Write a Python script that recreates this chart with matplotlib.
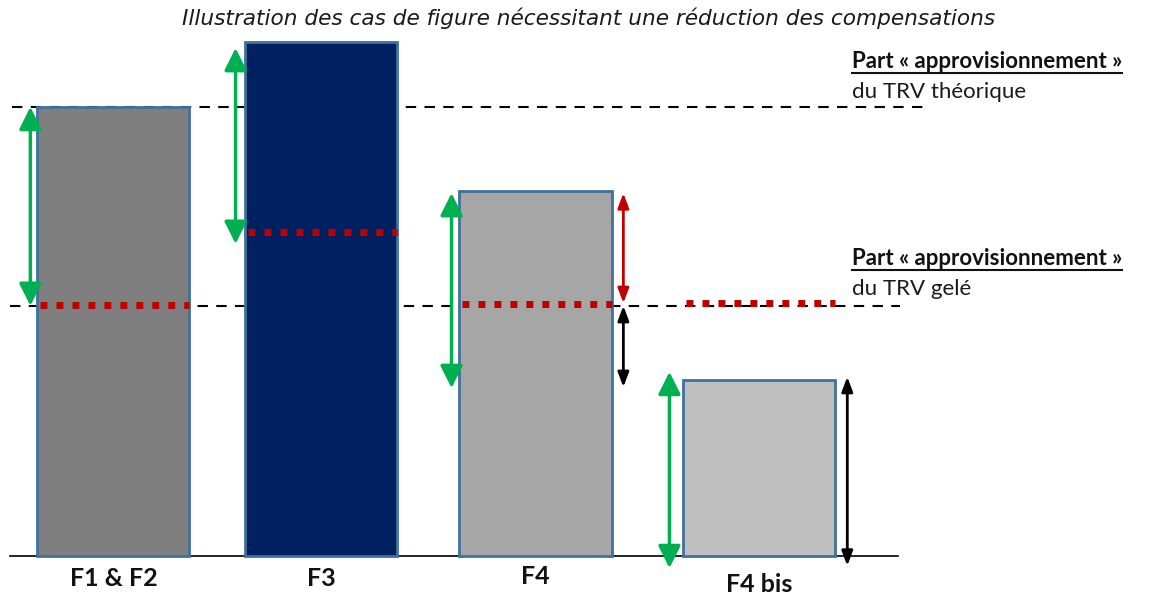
import matplotlib
matplotlib.use("Agg")
import matplotlib.pyplot as plt
from matplotlib.lines import Line2D

# Données (unités : 100 = part « approvisionnement » du TRV théorique)
categories = ["F1 & F2", "F3", "F4", "F4 bis"]
hauteurs = [100.0, 114.5, 81.3, 39.2]
couleurs = ["#7f7f7f", "#002060", "#a6a6a6", "#bfbfbf"]
niveau_theorique = 100.0
niveau_gele = 55.7
niveau_rouge = [55.9, 72.2, 56.2, 56.4]

# flèches vertes (réduction des compensations) : (début, fin)
fleches_vertes = [(100.0, 55.7), (113.1, 69.5), (80.8, 37.4), (41.0, -2.7)]
# flèches de droite : (index barre, début, fin, couleur)
fleches_droite = [(2, 80.8, 56.3, "#c00000"), (2, 55.7, 37.6, "black"),
                  (3, 39.9, -2.2, "black")]

titre = "Illustration des cas de figure nécessitant une réduction des compensations"
legende_titre = "Part « approvisionnement »"
legende_sous = ["du TRV théorique", "du TRV gelé"]


def main():
    fig = plt.figure(figsize=(11.58, 5.95), dpi=100)
    ax = fig.add_axes([0, 0, 1, 1])
    ax.set_xlim(-0.527, 4.851)
    ax.set_ylim(-8.69, 123.8)
    ax.axis("off")

    largeur = 0.706
    x = [0, 0.966, 1.96, 3.0]

    # lignes de référence en tirets (derrière les barres)
    ax.plot([-0.471, 3.769], [niveau_theorique] * 2, color="black", lw=1.5,
            linestyle=(0, (5, 4)), zorder=1)
    ax.plot([-0.481, 3.653], [niveau_gele] * 2, color="black", lw=1.5,
            linestyle=(0, (5, 4)), zorder=1)
    ax.plot([-0.481, 3.644], [0, 0], color="black", lw=1.2, zorder=1)

    ax.bar(x, hauteurs, width=largeur, color=couleurs, edgecolor="#41719c",
           linewidth=2, zorder=2)

    # niveaux rouges en pointillés
    for xi, yr in zip(x, niveau_rouge):
        ax.plot([xi - largeur / 2 + 0.01, xi + largeur / 2], [yr, yr],
                color="#c00000", lw=5, linestyle=(0, (1, 1.3)),
                solid_capstyle="butt", dash_capstyle="butt", zorder=3)

    # flèches vertes à gauche des barres
    decalage_g = [0.033, 0.046, 0.037, 0.065]
    for xi, d, (y0, y1) in zip(x, decalage_g, fleches_vertes):
        xa = xi - largeur / 2 - d
        ax.annotate("", xy=(xa, y1), xytext=(xa, y0),
                    arrowprops=dict(arrowstyle="<|-|>,head_length=0.9,head_width=0.45",
                                    mutation_scale=15, lw=2.5, color="#00b050",
                                    shrinkA=0, shrinkB=0), zorder=4)

    # flèches à droite
    for i, y0, y1, c in fleches_droite:
        xa = x[i] + largeur / 2 + 0.055
        ax.annotate("", xy=(xa, y1), xytext=(xa, y0),
                    arrowprops=dict(arrowstyle="<|-|>,head_length=0.8,head_width=0.3",
                                    mutation_scale=11, lw=2, color=c,
                                    shrinkA=0, shrinkB=0), zorder=4)

    # étiquettes des catégories
    y_etiquettes = [-5.0, -5.0, -4.6, -6.4]
    for xi, lab, ye in zip(x, categories, y_etiquettes):
        ax.text(xi, ye, lab, ha="center", va="center", fontsize=18,
                fontweight="bold", family="Lato", color="#111111")

    # titre
    fig.text(0.508, 0.969, titre, ha="center", va="center", fontsize=15.6,
             style="italic", family="DejaVu Sans", color="#1a1a1a")

    # légendes à droite
    textes = []
    for y_fig, sous in zip([0.896, 0.565], legende_sous):
        t = fig.text(0.7357, y_fig, legende_titre, ha="left", va="center",
                     fontsize=16, fontweight="bold", family="Lato",
                     color="#111111")
        fig.text(0.7357, y_fig - 0.05, sous, ha="left", va="center",
                 fontsize=16, family="Lato", color="#1a1a1a")
        textes.append(t)

    # soulignement
    fig.canvas.draw()
    rend = fig.canvas.get_renderer()
    inv = fig.transFigure.inverted()
    for t in textes:
        bb = t.get_window_extent(rend)
        (x0, y0), (x1, _) = inv.transform([(bb.x0, bb.y0), (bb.x1, bb.y1)])
        fig.add_artist(Line2D([x0, x1], [y0 - 0.001, y0 - 0.001],
                              transform=fig.transFigure, color="#111111", lw=1.5))

    fig.savefig("out.png", dpi=100)
    plt.close(fig)


if __name__ == "__main__":
    main()
